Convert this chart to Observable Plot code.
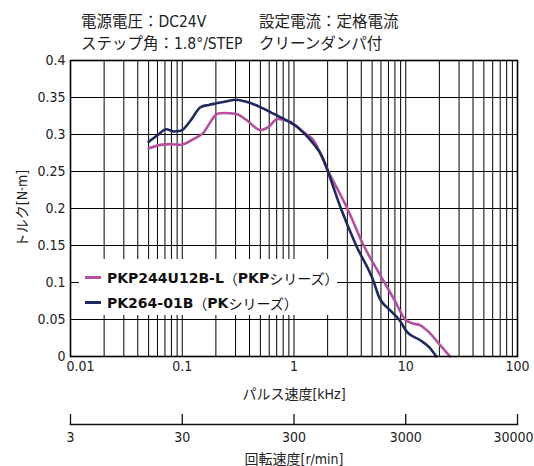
<!DOCTYPE html>
<html>
<head>
<meta charset="utf-8">
<script src="https://cdn.jsdelivr.net/npm/d3@7"></script>
<script src="https://cdn.jsdelivr.net/npm/@observablehq/plot@0.6"></script>
<style>
  html, body { margin: 0; padding: 0; background: #fff; }
  #wrap { position: relative; width: 534px; height: 466px; overflow: hidden;
    font-family: "Liberation Sans Narrow", "DejaVu Sans Condensed", "Liberation Sans", "Noto Sans CJK JP", sans-serif; color: #222; }
  #header { position: relative; height: 52px; font-size: 15.5px; }
  #header .t { position: absolute; white-space: nowrap; }
  #legend { position: absolute; left: 79px; top: 259px; width: 258px; height: 56px; background: #fff; }
  #legend .row { position: absolute; left: 6px; height: 25px; display: flex; align-items: center; white-space: nowrap; }
  #legend .sw { width: 16px; height: 3px; margin-right: 6px; }
  #legend .b { font-family: "DejaVu Sans", "Liberation Sans", sans-serif; font-weight: bold; font-size: 14px; color: #111; }
  #legend .n { font-family: "Noto Sans CJK JP", sans-serif; font-size: 14px; color: #111; }
  svg { display: block; }
</style>
</head>
<body>
<div id="wrap">
  <div id="header"></div>
  <div id="chart"></div>
  <div id="chart2"></div>
  <div id="legend"></div>
</div>
<script>
// ---- data ----
const headerLeft = ["電源電圧：DC24V", "ステップ角：1.8°/STEP"];
const headerRight = ["設定電流：定格電流", "クリーンダンパ付"];

const seriesNames = ["PKP244U12B-L", "PK264-01B"];
const seriesSuffix = ["PKP", "PK"];
const seriesColors = ["#b5509f", "#1f2a5e"];

// PKP244U12B-L : pulse speed [kHz] vs torque [N·m]
const freqPKP = [0.05, 0.064, 0.078, 0.096, 0.127, 0.156, 0.179, 0.206, 0.236, 0.3, 0.38, 0.5, 0.6, 0.71, 0.93, 1.22, 1.5, 2.0, 3.0, 4.2, 5.8, 6.45, 7.95, 9.9, 11.4, 13.5, 16.6, 20.4, 24.9];
const torquePKP = [0.281, 0.286, 0.287, 0.286, 0.294, 0.303, 0.317, 0.328, 0.329, 0.328, 0.319, 0.306, 0.311, 0.321, 0.317, 0.303, 0.292, 0.252, 0.200, 0.150, 0.112, 0.100, 0.076, 0.050, 0.045, 0.042, 0.031, 0.015, 0];

// PK264-01B
const freqPK = [0.05, 0.06, 0.072, 0.084, 0.097, 0.119, 0.146, 0.173, 0.2, 0.25, 0.3, 0.38, 0.5, 0.62, 0.81, 1.07, 1.41, 1.85, 2.0, 2.63, 3.6, 5.2, 5.7, 7.3, 8.7, 10.3, 13.5, 16.1, 18.8];
const torquePK = [0.290, 0.299, 0.307, 0.304, 0.305, 0.319, 0.337, 0.340, 0.342, 0.345, 0.347, 0.344, 0.337, 0.330, 0.321, 0.310, 0.292, 0.265, 0.251, 0.200, 0.150, 0.100, 0.082, 0.062, 0.050, 0.033, 0.022, 0.013, 0];

const xTicks = [0.01, 0.1, 1, 10, 100];
const yTicks = [0, 0.05, 0.1, 0.15, 0.2, 0.25, 0.3, 0.35, 0.4];
const rpmTicks = [3, 30, 300, 3000, 30000];
const gridMultipliers = [1, 2, 3, 4, 5, 6, 7, 8, 9];

// ---- header ----
const header = document.getElementById("header");
headerLeft.forEach((s, i) => {
  const d = document.createElement("div"); d.className = "t"; d.textContent = s;
  d.style.left = "81px"; d.style.top = (9 + i * 22) + "px"; header.appendChild(d);
});
headerRight.forEach((s, i) => {
  const d = document.createElement("div"); d.className = "t"; d.textContent = s;
  d.style.left = "259px"; d.style.top = (9 + i * 22) + "px"; header.appendChild(d);
});

// ---- main chart ----
const gridX = xTicks.slice(0, -1).flatMap(p => gridMultipliers.map(m => +(m * p).toPrecision(3))).concat([xTicks[xTicks.length - 1]]);
const pkp = freqPKP.map((f, i) => ({f, t: torquePKP[i]}));
const pk = freqPK.map((f, i) => ({f, t: torquePK[i]}));
const fmt = d => String(d);
const font = "'Liberation Sans Narrow', 'DejaVu Sans Condensed', 'Liberation Sans', 'Noto Sans CJK JP', sans-serif";

const chart = Plot.plot({
  width: 534, height: 353,
  marginTop: 8, marginLeft: 70, marginRight: 17, marginBottom: 49,
  style: {fontFamily: font, fontSize: "14px", color: "#222", background: "#fff"},
  x: {type: "log", domain: [0.01, 100]},
  y: {domain: [0, 0.4]},
  marks: [
    Plot.ruleX(gridX, {stroke: "#000", strokeWidth: 1}),
    Plot.ruleY(yTicks, {stroke: "#000", strokeWidth: 1}),
    Plot.line(pkp, {x: "f", y: "t", stroke: seriesColors[0], strokeWidth: 2.6, curve: "monotone-x"}),
    Plot.line(pk, {x: "f", y: "t", stroke: seriesColors[1], strokeWidth: 2.6, curve: "monotone-x"}),
    Plot.frame({stroke: "#000", strokeWidth: 1.6}),
    Plot.axisX([xTicks[0]], {tickSize: 0, tickPadding: 5, tickFormat: fmt, dx: 10, label: null}),
    Plot.axisX(xTicks.slice(1), {tickSize: 0, tickPadding: 5, tickFormat: fmt, label: "パルス速度[kHz]", labelAnchor: "center", labelArrow: "none", labelOffset: 42}),
    Plot.axisY(yTicks, {tickSize: 0, tickPadding: 5, tickFormat: fmt, label: "トルク[N·m]", labelAnchor: "center", labelArrow: "none", labelOffset: 53})
  ]
});
document.getElementById("chart").appendChild(chart);

// ---- rotation speed axis ----
const rpmInner = rpmTicks.slice(0, -1);
const rpmLast = rpmTicks.slice(-1);
const chart2 = Plot.plot({
  width: 534, height: 61,
  marginTop: 9, marginLeft: 70, marginRight: 17, marginBottom: 42,
  style: {fontFamily: font, fontSize: "14px", color: "#222", background: "#fff"},
  x: {type: "log", domain: [rpmTicks[0], rpmTicks[rpmTicks.length - 1]], axis: null},
  marks: [
    Plot.tickX(rpmTicks, {x: d => d, stroke: "#111", strokeWidth: 1.3}),
    Plot.frame({anchor: "bottom", stroke: "#111", strokeWidth: 1.6}),
    Plot.text(rpmInner, {x: d => d, text: fmt, frameAnchor: "bottom", lineAnchor: "top", dy: 8, fill: "#222"}),
    Plot.text(rpmLast, {x: d => d, text: fmt, frameAnchor: "bottom", lineAnchor: "top", textAnchor: "end", dx: 16, dy: 8, fill: "#222"}),
    Plot.text(["回転速度[r/min]"], {frameAnchor: "bottom", lineAnchor: "bottom", dy: 39, fill: "#222"})
  ]
});
document.getElementById("chart2").appendChild(chart2);

// ---- legend ----
const legend = document.getElementById("legend");
seriesNames.forEach((name, i) => {
  const row = document.createElement("div"); row.className = "row";
  row.style.top = (6 + i * 25) + "px";
  row.innerHTML = `<span class="sw" style="background:${seriesColors[i]}"></span>` +
    `<span class="b">${name}</span><span class="n">（</span><span class="b">${seriesSuffix[i]}</span><span class="n">シリーズ）</span>`;
  legend.appendChild(row);
});
</script>
</body>
</html>
